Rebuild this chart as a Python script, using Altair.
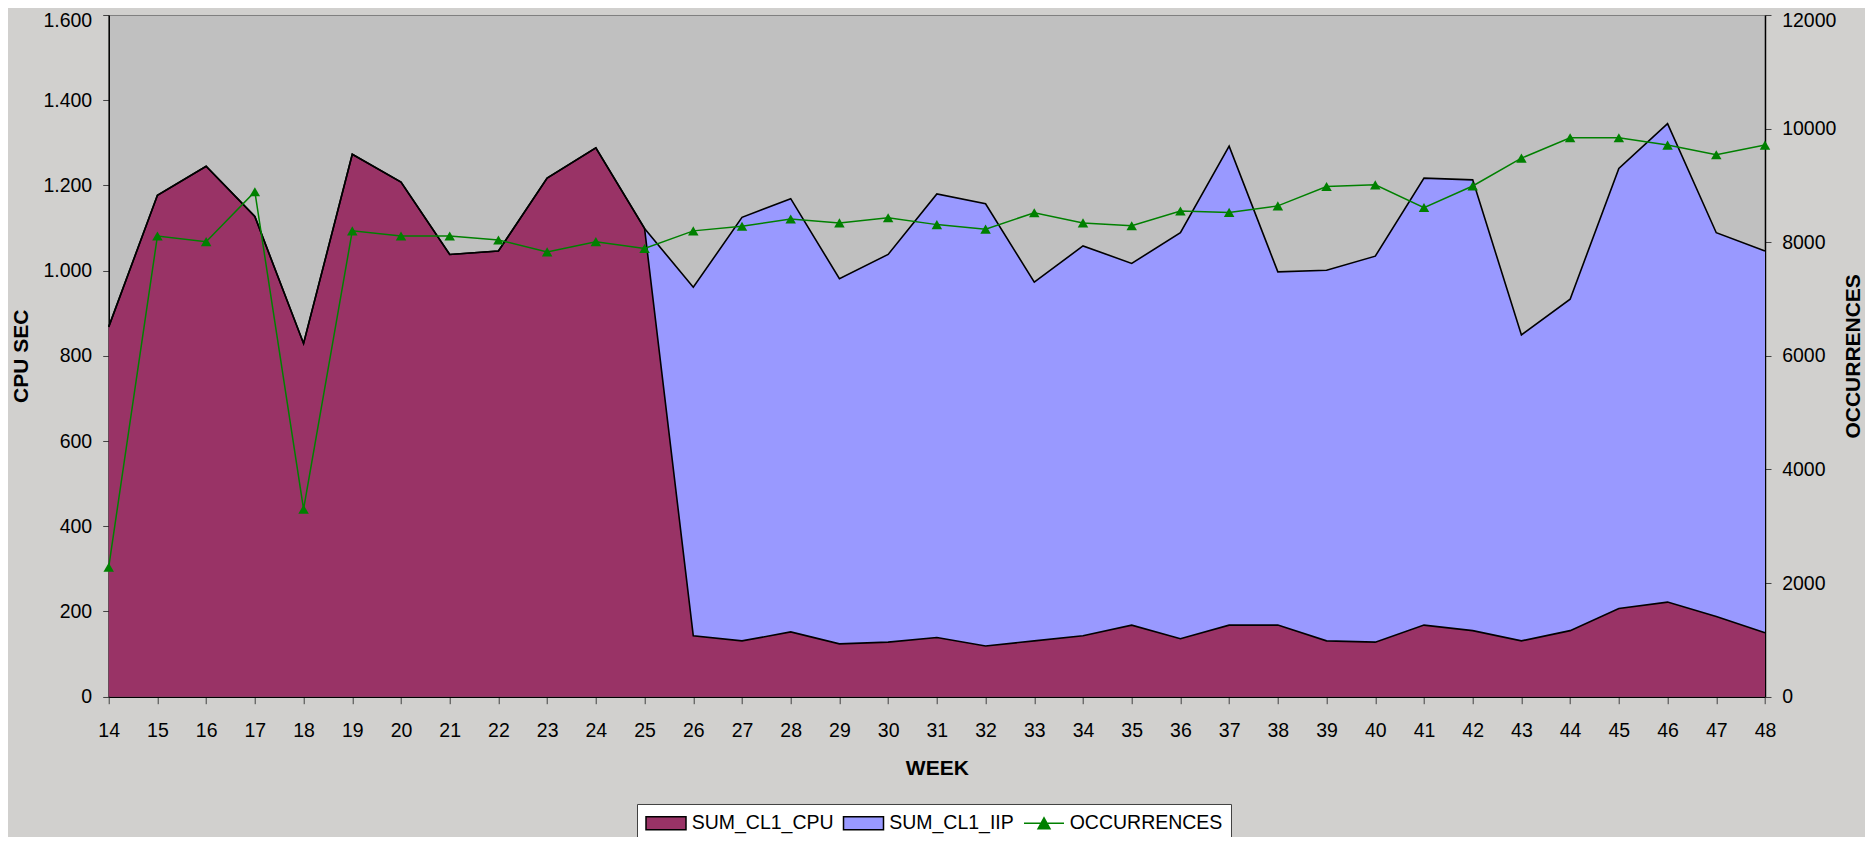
import altair as alt
import pandas as pd

# ---- data ----
weeks = [14, 15, 16, 17, 18, 19, 20, 21, 22, 23, 24, 25, 26, 27, 28, 29, 30, 31,
         32, 33, 34, 35, 36, 37, 38, 39, 40, 41, 42, 43, 44, 45, 46, 47, 48]
series_names = ["SUM_CL1_CPU", "SUM_CL1_IIP", "OCCURRENCES"]
series_colors = ["#993366", "#9999ff", "#008000"]

sum_cl1_cpu = [868, 1177, 1245, 1127, 829, 1273, 1208, 1038, 1046, 1217, 1288, 1099,
               143, 131, 152, 124, 128, 139, 119, 131, 143, 168, 136, 168, 168, 131,
               128, 168, 155, 131, 155, 207, 222, 188, 150]
sum_cl1_iip = [0, 0, 0, 0, 0, 0, 0, 0, 0, 0, 0, 0,
               818, 994, 1017, 857, 910, 1041, 1038, 842, 915, 849, 953, 1124, 829,
               870, 906, 1049, 1058, 718, 778, 1033, 1123, 901, 896]
occurrences = [2280, 8110, 8010, 8890, 3300, 8200, 8110, 8110, 8040, 7830, 8010, 7890,
               8200, 8280, 8410, 8340, 8430, 8310, 8230, 8520, 8340, 8290, 8550, 8525,
               8640, 8980, 9010, 8610, 8990, 9480, 9840, 9840, 9710, 9540, 9710]

left_ticks = [0, 200, 400, 600, 800, 1000, 1200, 1400, 1600]
right_ticks = [0, 2000, 4000, 6000, 8000, 10000, 12000]

FONT = "Liberation Sans"

area_df = pd.DataFrame({
    "week": weeks + weeks,
    "series": [series_names[0]] * len(weeks) + [series_names[1]] * len(weeks),
    "value": sum_cl1_cpu + sum_cl1_iip,
    "ord": [0] * len(weeks) + [1] * len(weeks),
})
occ_df = pd.DataFrame({"week": weeks, "occ": occurrences})

W = 1656.3
H = 681.7

x_axis = alt.Axis(
    values=weeks, format="d", title="WEEK",
    labelFont=FONT, labelFontSize=19.5, labelColor="black", labelPadding=18,
    labelFlush=False, labelOverlap=False,
    tickSize=7, tickColor="#404040", domainColor="black", domainWidth=1.5,
    grid=False,
    titleFont=FONT, titleFontSize=21, titleFontWeight="bold", titleColor="black",
    titleX=W / 2, titleY=72.3, titleAlign="center", titleBaseline="middle",
)
x_scale = alt.Scale(domain=[14, 48], nice=False, zero=False)

left_axis = alt.Axis(
    values=left_ticks,
    labelExpr="replace(format(datum.value, ','), ',', '.')",
    labelFont=FONT, labelFontSize=19.5, labelColor="black", labelPadding=11,
    labelOffset={"condition": {"test": "datum.value == 1600", "value": 6}, "value": 0},
    tickSize=6, tickColor="#404040", domainColor="black", domainWidth=1.5,
    grid=False, title="CPU SEC",
    titleFont=FONT, titleFontSize=21, titleFontWeight="bold", titleColor="black",
    titleAngle=270, titleX=-87.7, titleY=H / 2, titleAlign="center",
    titleBaseline="middle",
)
left_scale = alt.Scale(domain=[0, 1600], nice=False)

right_axis = alt.Axis(
    orient="right", values=right_ticks, format="d",
    labelFont=FONT, labelFontSize=19.5, labelColor="black", labelPadding=10.7,
    labelOffset={"condition": {"test": "datum.value == 12000", "value": 6}, "value": 0},
    tickSize=6, tickColor="#404040", domainColor="black", domainWidth=1.5,
    grid=False, title="OCCURRENCES",
    titleFont=FONT, titleFontSize=21, titleFontWeight="bold", titleColor="black",
    titleAngle=270, titleX=89, titleY=H / 2, titleAlign="center",
    titleBaseline="middle",
)
right_scale = alt.Scale(domain=[0, 12000], nice=False)

rect_path = "M-2,-0.64H2V0.64H-2Z"
occ_path = "M-2,0H2M-0.6,0.55L0,-0.55L0.6,0.55Z"

legend = alt.Legend(
    orient="none", legendX=528.3, legendY=789, direction="horizontal", title=None,
    symbolType={"expr": f"datum.value == 'OCCURRENCES' ? '{occ_path}' : '{rect_path}'"},
    symbolStrokeColor={"expr": "datum.value == 'OCCURRENCES' ? '#008000' : '#000000'"},
    symbolSize=400, symbolOffset=10, symbolStrokeWidth=1.5, symbolOpacity=1,
    labelFont=FONT, labelFontSize=19.5, labelColor="black", labelOffset=14.7,
    labelLimit=400, columnPadding=6.5, padding=8,
    fillColor="white", strokeColor="#404040",
)

base = alt.Chart(area_df).transform_stack(
    stack="value", groupby=["week"], as_=["y0", "y1"],
    sort=[alt.SortField("ord", order="ascending")],
)

areas = base.mark_area(opacity=1, interpolate="linear").encode(
    x=alt.X("week:Q", scale=x_scale, axis=x_axis),
    y=alt.Y("y1:Q", scale=left_scale, axis=left_axis),
    y2="y0:Q",
    fill=alt.Fill("series:N", scale=alt.Scale(domain=series_names, range=series_colors),
                  legend=legend),
)

outline = base.mark_line(color="black", strokeWidth=1.6, interpolate="linear").encode(
    x=alt.X("week:Q", scale=x_scale, axis=x_axis),
    y=alt.Y("y1:Q", scale=left_scale, axis=left_axis),
    detail="series:N",
)

occ_line = alt.Chart(occ_df).mark_line(color="#008000", strokeWidth=1.5).encode(
    x=alt.X("week:Q", scale=x_scale, axis=x_axis),
    y=alt.Y("occ:Q", scale=right_scale, axis=right_axis),
)

occ_pts = alt.Chart(occ_df).mark_point(
    shape="triangle-up", filled=True, size=110, color="#008000", opacity=1
).encode(
    x=alt.X("week:Q", scale=x_scale, axis=x_axis),
    y=alt.Y("occ:Q", scale=right_scale, axis=right_axis),
)

left = alt.layer(areas, outline)
right = alt.layer(occ_line, occ_pts)

chart = alt.layer(left, right).resolve_scale(y="independent").properties(
    width=W, height=H,
    autosize=alt.AutoSizeParams(type="none"),
    padding={"left": 100.7, "top": 7, "right": 100, "bottom": 140},
    background="#d1d0ce",
).configure(font=FONT).configure_view(fill="#c0c0c0", stroke="#808080", strokeWidth=1)

chart.save("out.html", embed_options={"renderer": "svg", "actions": False})
